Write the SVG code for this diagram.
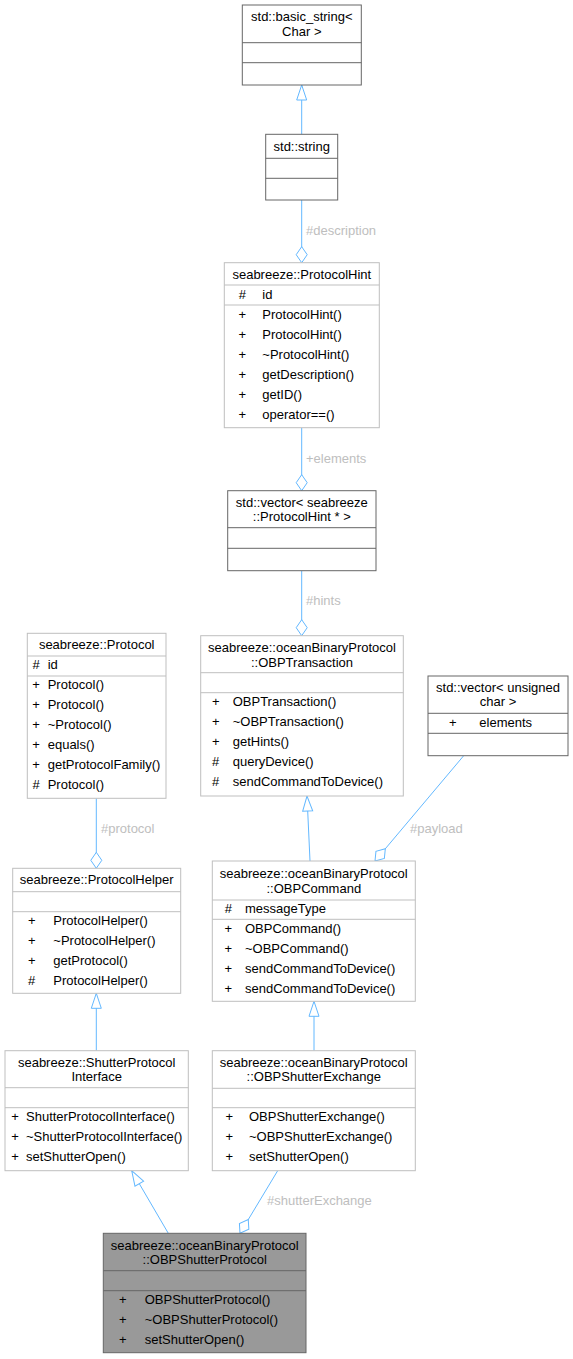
<svg xmlns="http://www.w3.org/2000/svg" width="573" height="1359" viewBox="0 0 573 1359">
<style>
text{font-family:"Liberation Sans",Arial,sans-serif;font-size:13px;fill:#000}
.t{text-anchor:middle}
.s{text-anchor:middle}
.lbl{fill:#bebebe}
.bl{fill:#fff;stroke:#bfbfbf;stroke-width:1}
.bd{fill:#fff;stroke:#666;stroke-width:1}
.bf{fill:#999;stroke:#666;stroke-width:1}
.sl{stroke:#bfbfbf;stroke-width:1}
.sd{stroke:#666;stroke-width:1}
.e{fill:none;stroke:#63b8ff;stroke-width:1}
.inh{marker-end:url(#tri)}
.agg{marker-end:url(#dia)}
</style>
<defs>
<marker id="tri" viewBox="0 0 15 10" refX="15" refY="5" markerWidth="15" markerHeight="10" markerUnits="userSpaceOnUse" orient="auto" overflow="visible">
<path d="M0,0 L15,5 L0,10 Z" fill="#fff" stroke="#63b8ff" stroke-width="1"/>
</marker>
<marker id="dia" viewBox="0 0 16 11" refX="16" refY="5.5" markerWidth="16" markerHeight="11" markerUnits="userSpaceOnUse" orient="auto" overflow="visible">
<path d="M0,5.5 L8,0 L16,5.5 L8,11 Z" fill="#fff" stroke="#63b8ff" stroke-width="1"/>
</marker>
</defs>

<g id="connectors">
<path class="e inh" d="M301.7,134.3 L301.7,85"/>
<path class="e agg" d="M301.7,200 L301.7,262.7"/>
<path class="e agg" d="M301.7,427.7 L301.7,490.7"/>
<path class="e agg" d="M301.7,570.7 L301.7,635.7"/>
<path class="e inh" d="M310,861 L307,796"/>
<path class="e agg" d="M463.7,755.7 L375,861"/>
<path class="e inh" d="M314,1050.7 L314,1001.3"/>
<path class="e agg" d="M96.3,798.3 L96.3,868.3"/>
<path class="e inh" d="M96.3,1050.7 L96.3,993.3"/>
<path class="e inh" d="M168.3,1233.3 L131.7,1170.7"/>
<path class="e agg" d="M277.7,1170.7 L240,1233.3"/>
<text class="lbl" x="306" y="235">#description</text>
<text class="lbl" x="306" y="463">+elements</text>
<text class="lbl" x="306" y="605">#hints</text>
<text class="lbl" x="410" y="833">#payload</text>
<text class="lbl" x="101" y="833">#protocol</text>
<text class="lbl" x="267" y="1205">#shutterExchange</text>
</g>

<g id="node-basic_string">
<rect class="bd" x="242.3" y="5" width="119" height="80"/>
<line class="sd" x1="242.3" y1="42.7" x2="361.3" y2="42.7"/>
<line class="sd" x1="242.3" y1="62.7" x2="361.3" y2="62.7"/>
<text class="t" x="301.8" y="21">std::basic_string&lt;</text>
<text class="t" x="301.8" y="36">Char &gt;</text>
</g>

<g id="node-string">
<rect class="bd" x="265.7" y="134.3" width="72" height="65.7"/>
<line class="sd" x1="265.7" y1="158.3" x2="337.7" y2="158.3"/>
<line class="sd" x1="265.7" y1="178.3" x2="337.7" y2="178.3"/>
<text class="t" x="301.7" y="151">std::string</text>
</g>

<g id="node-ProtocolHint">
<rect class="bl" x="224.3" y="262.7" width="155" height="165"/>
<line class="sl" x1="224.3" y1="285" x2="379.3" y2="285"/>
<line class="sl" x1="224.3" y1="305" x2="379.3" y2="305"/>
<text class="t" x="301.8" y="279">seabreeze::ProtocolHint</text>
<text class="s" x="242.3" y="299">#</text><text x="262.3" y="299">id</text>
<text class="s" x="242.3" y="319">+</text><text x="262.3" y="319">ProtocolHint()</text>
<text class="s" x="242.3" y="339">+</text><text x="262.3" y="339">ProtocolHint()</text>
<text class="s" x="242.3" y="359">+</text><text x="262.3" y="359">~ProtocolHint()</text>
<text class="s" x="242.3" y="379">+</text><text x="262.3" y="379">getDescription()</text>
<text class="s" x="242.3" y="399">+</text><text x="262.3" y="399">getID()</text>
<text class="s" x="242.3" y="419">+</text><text x="262.3" y="419">operator==()</text>
</g>

<g id="node-vector_ProtocolHint">
<rect class="bd" x="227.7" y="490.7" width="148.3" height="80"/>
<line class="sd" x1="227.7" y1="527.7" x2="376" y2="527.7"/>
<line class="sd" x1="227.7" y1="548.3" x2="376" y2="548.3"/>
<text class="t" x="301.8" y="507">std::vector&lt; seabreeze</text>
<text class="t" x="301.8" y="521">::ProtocolHint * &gt;</text>
</g>

<g id="node-Protocol">
<rect class="bl" x="27.3" y="633.3" width="138.7" height="165"/>
<line class="sl" x1="27.3" y1="656" x2="166" y2="656"/>
<line class="sl" x1="27.3" y1="676" x2="166" y2="676"/>
<text class="t" x="96.7" y="649">seabreeze::Protocol</text>
<text class="s" x="36" y="669">#</text><text x="47.7" y="669">id</text>
<text class="s" x="36" y="689">+</text><text x="47.7" y="689">Protocol()</text>
<text class="s" x="36" y="709">+</text><text x="47.7" y="709">Protocol()</text>
<text class="s" x="36" y="729">+</text><text x="47.7" y="729">~Protocol()</text>
<text class="s" x="36" y="749">+</text><text x="47.7" y="749">equals()</text>
<text class="s" x="36" y="769">+</text><text x="47.7" y="769">getProtocolFamily()</text>
<text class="s" x="36" y="789">#</text><text x="47.7" y="789">Protocol()</text>
</g>

<g id="node-OBPTransaction">
<rect class="bl" x="200.7" y="635.7" width="202.6" height="160.3"/>
<line class="sl" x1="200.7" y1="672.7" x2="403.3" y2="672.7"/>
<line class="sl" x1="200.7" y1="692.7" x2="403.3" y2="692.7"/>
<text class="t" x="302" y="652">seabreeze::oceanBinaryProtocol</text>
<text class="t" x="302" y="667">::OBPTransaction</text>
<text class="s" x="215.7" y="706">+</text><text x="232.7" y="706">OBPTransaction()</text>
<text class="s" x="215.7" y="726">+</text><text x="232.7" y="726">~OBPTransaction()</text>
<text class="s" x="215.7" y="746">+</text><text x="232.7" y="746">getHints()</text>
<text class="s" x="215.7" y="766">#</text><text x="232.7" y="766">queryDevice()</text>
<text class="s" x="215.7" y="786">#</text><text x="232.7" y="786">sendCommandToDevice()</text>
</g>

<g id="node-vector_uchar">
<rect class="bd" x="428" y="676" width="140" height="79.7"/>
<line class="sd" x1="428" y1="713.3" x2="568" y2="713.3"/>
<line class="sd" x1="428" y1="733.3" x2="568" y2="733.3"/>
<text class="t" x="498" y="692">std::vector&lt; unsigned</text>
<text class="t" x="498" y="706">char &gt;</text>
<text class="s" x="452.7" y="727">+</text><text x="479.3" y="727">elements</text>
</g>

<g id="node-ProtocolHelper">
<rect class="bl" x="12.7" y="868.3" width="168" height="125"/>
<line class="sl" x1="12.7" y1="891.7" x2="180.7" y2="891.7"/>
<line class="sl" x1="12.7" y1="911.7" x2="180.7" y2="911.7"/>
<text class="t" x="96.7" y="884">seabreeze::ProtocolHelper</text>
<text class="s" x="31.7" y="925">+</text><text x="53.3" y="925">ProtocolHelper()</text>
<text class="s" x="31.7" y="945">+</text><text x="53.3" y="945">~ProtocolHelper()</text>
<text class="s" x="31.7" y="965">+</text><text x="53.3" y="965">getProtocol()</text>
<text class="s" x="31.7" y="985">#</text><text x="53.3" y="985">ProtocolHelper()</text>
</g>

<g id="node-OBPCommand">
<rect class="bl" x="212.3" y="861" width="203" height="140.3"/>
<line class="sl" x1="212.3" y1="900" x2="415.3" y2="900"/>
<line class="sl" x1="212.3" y1="919.3" x2="415.3" y2="919.3"/>
<text class="t" x="313.8" y="878">seabreeze::oceanBinaryProtocol</text>
<text class="t" x="313.8" y="893">::OBPCommand</text>
<text class="s" x="228.3" y="913">#</text><text x="245" y="913">messageType</text>
<text class="s" x="228.3" y="933">+</text><text x="245" y="933">OBPCommand()</text>
<text class="s" x="228.3" y="953">+</text><text x="245" y="953">~OBPCommand()</text>
<text class="s" x="228.3" y="973">+</text><text x="245" y="973">sendCommandToDevice()</text>
<text class="s" x="228.3" y="993">+</text><text x="245" y="993">sendCommandToDevice()</text>
</g>

<g id="node-ShutterProtocolInterface">
<rect class="bl" x="5" y="1050.7" width="183.3" height="120"/>
<line class="sl" x1="5" y1="1087.7" x2="188.3" y2="1087.7"/>
<line class="sl" x1="5" y1="1107.7" x2="188.3" y2="1107.7"/>
<text class="t" x="96.7" y="1067">seabreeze::ShutterProtocol</text>
<text class="t" x="96.7" y="1081">Interface</text>
<text class="s" x="15" y="1121">+</text><text x="26" y="1121">ShutterProtocolInterface()</text>
<text class="s" x="15" y="1141">+</text><text x="26" y="1141">~ShutterProtocolInterface()</text>
<text class="s" x="15" y="1161">+</text><text x="26" y="1161">setShutterOpen()</text>
</g>

<g id="node-OBPShutterExchange">
<rect class="bl" x="212.3" y="1050.7" width="203" height="120"/>
<line class="sl" x1="212.3" y1="1088.3" x2="415.3" y2="1088.3"/>
<line class="sl" x1="212.3" y1="1107.7" x2="415.3" y2="1107.7"/>
<text class="t" x="313.8" y="1067">seabreeze::oceanBinaryProtocol</text>
<text class="t" x="313.8" y="1081">::OBPShutterExchange</text>
<text class="s" x="229.3" y="1121">+</text><text x="249" y="1121">OBPShutterExchange()</text>
<text class="s" x="229.3" y="1141">+</text><text x="249" y="1141">~OBPShutterExchange()</text>
<text class="s" x="229.3" y="1161">+</text><text x="249" y="1161">setShutterOpen()</text>
</g>

<g id="node-OBPShutterProtocol">
<rect class="bf" x="103.3" y="1233.3" width="202.7" height="119.4"/>
<line class="sd" x1="103.3" y1="1270.7" x2="306" y2="1270.7"/>
<line class="sd" x1="103.3" y1="1290.7" x2="306" y2="1290.7"/>
<text class="t" x="204.7" y="1249.5">seabreeze::oceanBinaryProtocol</text>
<text class="t" x="204.7" y="1264">::OBPShutterProtocol</text>
<text class="s" x="122.7" y="1304">+</text><text x="144.7" y="1304">OBPShutterProtocol()</text>
<text class="s" x="122.7" y="1324">+</text><text x="144.7" y="1324">~OBPShutterProtocol()</text>
<text class="s" x="122.7" y="1344">+</text><text x="144.7" y="1344">setShutterOpen()</text>
</g>
</svg>
